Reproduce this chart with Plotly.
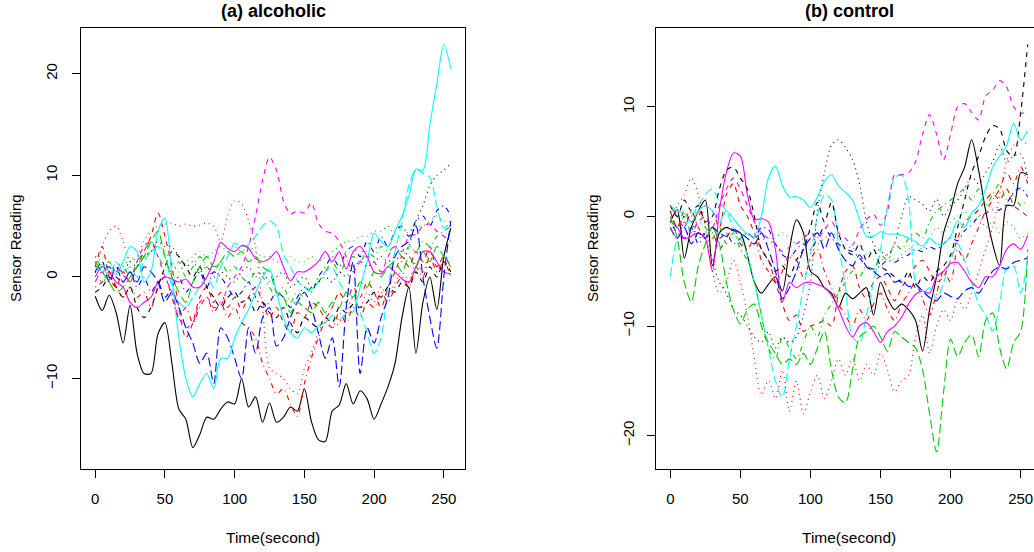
import plotly.graph_objects as go

W, H = 1034, 552

# sample times (seconds)
TIME = list(range(0, 256, 5))

# ---------------- (a) alcoholic ----------------
A_BLACK_SOLID = [-1.9, -3.3, -1.8, -3.5, -6.5, -2.8, -7.5, -9.5, -9.5, -5.6,
                 -4.5, -8.5, -13.0, -14.0, -16.8, -15.5, -13.8, -14.0, -13.0, -12.3,
                 -12.5, -10.0, -12.8, -11.8, -14.3, -12.4, -14.3, -13.8, -12.8, -13.2,
                 -11.0, -14.2, -16.0, -16.2, -13.2, -12.6, -10.5, -12.5, -11.2, -12.0,
                 -14.0, -12.5, -10.8, -8.5, -4.0, -1.0, -7.5, -2.5, 0.0, -3.2,
                 2.0, 4.8]
A_RED_DASHED = [1.0, 3.0, 0.0, -1.0, 0.5, -0.5, 1.0, 2.5, 4.0, 6.3,
                4.0, 1.0, -3.0, -6.0, -4.5, -2.0, -1.0, -2.5, -1.5, -3.0,
                -2.0, -3.2, -2.0, -1.0, -2.5, -4.0, -3.0, -4.5, -5.5, -3.5,
                -4.0, -2.5, -3.0, -4.0, -3.0, -1.5, -2.5, -1.0, -2.0, -0.5,
                -1.5, -3.0, -1.0, 0.5, 2.0, 1.0, 2.5, 1.5, 3.0, 1.0,
                2.0, 1.0]
A_GREEN_DOTTED = [2.0, 1.5, 1.0, 1.5, 1.0, 2.0, 1.5, 2.0, 2.5, 3.0,
                  2.5, 1.5, 0.5, 1.5, 2.0, 2.5, 2.0, 2.5, 3.0, 2.5,
                  3.0, 2.5, 3.0, 2.5, 2.0, 2.0, 1.5, 1.5, 2.0, 1.5,
                  1.5, 2.0, 1.5, 2.0, 2.5, 3.0, 3.5, 3.5, 4.0, 4.0,
                  4.5, 4.5, 5.0, 4.0, 4.0, 4.5, 5.0, 5.0, 5.5, 6.0,
                  5.5, 5.5]
A_BLUE_DOTDASH = [1.5, 0.5, 1.0, 0.0, -0.5, 0.5, -1.0, 0.0, -1.5, -0.5,
                  -2.0, -1.0, 0.0, -1.5, -0.5, 0.5, -1.0, 0.5, 0.0, -1.0,
                  -2.0, -1.5, -0.5, -2.0, -3.0, -2.5, -1.5, -2.0, -3.0, -2.0,
                  -1.0, -1.5, 0.0, 1.0, 2.0, 1.0, 2.5, 3.0, 2.0, 3.5,
                  2.5, 4.0, 3.0, 4.5, 5.0, 4.0, 5.5, 6.0, 5.0, 6.5,
                  7.0, 6.0]
A_CYAN_LONGDASH = [0.5, 1.0, 0.0, 1.5, 0.5, 1.0, 0.0, 1.5, 2.5, 3.0,
                   2.0, -1.0, -2.5, -3.0, -2.0, -1.0, 0.0, -1.0, 1.0, 2.0,
                   3.3, 3.0, 3.2, 4.0, 5.0, 5.5, 5.0, 2.2, 1.0, -0.4,
                   -1.0, -1.2, -0.5, 0.5, 0.9, -0.5, -1.5, -2.0, -3.5, -5.5,
                   -7.5, -6.0, -1.0, 2.5, 5.5, 9.0, 10.6, 10.2, 9.8, 7.0,
                   4.8, 5.5]
A_MAGENTA_SOLID = [0.0, 1.0, 0.5, -0.5, -1.0, -2.5, -3.0, -2.5, -2.0, -0.5,
                   0.0, -0.2, -0.5, -0.2, -1.0, -1.0, 0.0, 1.5, 3.4, 2.8,
                   2.5, 3.1, 2.8, 1.8, 1.5, 1.8, 2.5, 1.0, -0.4, 0.5,
                   0.5, 0.9, 1.5, 2.5, 1.5, 2.5, 0.8, 2.5, 3.0, 2.0,
                   0.5, 0.3, 1.0, 0.5, -0.2, -0.5, 1.0, 2.5, 2.5, 1.5,
                   0.5, 0.3]
A_BLACK_DASHED = [-1.5, -1.0, 0.0, -1.0, -2.0, -1.0, -3.0, -4.0, -3.0, -1.0,
                  1.0, 2.5, 2.0, 1.0, 0.0, 1.0, -1.0, -2.0, -3.0, -2.0,
                  -1.5, -2.5, -2.0, -3.5, -2.5, -3.5, -4.0, -3.0, -4.5, -5.5,
                  -4.0, -4.5, -5.0, -4.0, -4.5, -3.0, -3.5, -2.7, -3.0, -2.5,
                  -1.5, -2.0, -1.0, -1.5, -0.5, -1.0, 0.5, -0.5, 1.0, 0.0,
                  1.5, 0.5]
A_RED_DOTTED = [0.5, 3.0, 4.5, 5.0, 3.5, 1.5, 2.0, 3.5, 4.5, 5.0,
                5.2, 5.3, 5.0, 5.2, 5.0, 5.1, 5.3, 5.0, 3.5, 6.0,
                7.5, 7.2, 5.5, 3.0, -3.0, -9.0, -9.5, -10.0, -11.0, -11.5,
                -9.0, -7.5, -5.5, -4.3, -5.0, -4.5, -3.5, -2.0, -3.0, -1.5,
                -2.5, -1.0, -2.0, -0.5, 0.5, -0.5, 1.5, 0.5, 2.5, 1.0,
                2.0, 1.5]
A_GREEN_DOTDASH = [2.0, 1.0, 1.5, 0.5, 1.0, 0.0, 1.5, 2.5, 3.5, 2.0,
                   1.0, 0.5, 1.5, 0.0, 1.0, 2.0, 1.0, 0.5, 1.5, 0.5,
                   1.0, 0.0, -0.5, 0.5, 0.0, -1.0, -2.0, -1.0, -2.5, -1.5,
                   -2.0, -1.0, -0.5, 0.5, 1.5, 0.5, 1.5, 2.0, 1.5, 2.5,
                   2.0, 3.0, 2.5, 3.0, 2.0, 3.0, 2.5, 3.5, 3.0, 4.0,
                   4.5, 5.0]
A_BLUE_LONGDASH = [0.5, 1.5, -0.5, 1.0, -0.5, 0.5, -0.5, 1.0, 0.5, -0.5,
                   -2.5, -1.5, -3.0, -5.0, -6.5, -8.5, -7.5, -10.5, -5.0, -6.0,
                   -8.0, -10.0, -5.0, -7.5, -4.0, -3.0, -6.8, -6.0, -4.0, -2.5,
                   -1.5, -3.0, -5.5, -8.0, -6.0, -10.8, -3.0, 1.5, -9.5, -5.0,
                   -6.5, -4.0, -2.0, 2.0, 3.0, 3.5, 5.0, 0.0, -4.0, -7.0,
                   0.0, 5.5]
A_CYAN_SOLID = [0.8, 1.2, 0.5, 0.3, 1.5, 3.0, 2.5, -0.5, 0.5, 4.5,
                5.8, 0.0, -6.0, -10.0, -11.8, -10.5, -9.5, -11.0, -8.0, -8.0,
                -6.0, -4.5, -3.2, -1.6, 0.0, 0.8, -1.5, -4.0, -5.5, -6.0,
                -5.0, -5.5, -4.8, -4.5, -3.8, -4.2, -3.6, -3.4, -1.0, 1.5,
                4.3, 3.5, 3.0, 4.5, 6.0, 8.0, 10.6, 10.5, 15.0, 19.0,
                22.9, 20.5]
A_MAGENTA_DASHED = [-0.5, 0.5, -0.3, 1.0, 0.2, -0.5, 1.5, 3.0, 3.5, 2.0,
                    0.0, -1.5, -4.0, -5.0, -4.5, -2.5, -2.0, -3.0, -2.8, -1.0,
                    0.0, 1.0, 3.0, 6.0, 9.5, 11.8, 10.5, 7.5, 6.2, 6.5,
                    6.3, 7.3, 5.3, 4.5, 4.3, 3.5, 2.0, 0.5, 1.5, 2.0,
                    1.5, 0.5, 2.0, 3.0, 2.5, 4.0, 4.2, 5.0, 5.2, 4.5,
                    4.0, 3.5]
A_BLACK_DOTTED = [0.5, -0.5, 0.5, 1.0, 0.5, 1.5, 1.0, 2.0, 2.5, 3.5,
                  3.0, 3.0, 2.0, 1.0, 1.5, 0.5, 1.0, 0.0, 0.5, 0.0,
                  -0.5, 0.5, 1.0, 0.0, 0.5, -0.5, 0.0, 0.5, -1.0, -0.5,
                  0.0, -1.0, -0.5, 0.0, -0.5, 0.5, 0.0, 1.0, 1.5, 1.0,
                  1.5, 2.0, 1.5, 2.0, 1.5, 3.0, 5.5, 7.0, 9.0, 10.0,
                  10.5, 11.2]
A_RED_DOTDASH = [-1.0, -0.5, 0.5, -1.0, -2.0, -1.0, -2.0, -1.5, -3.0, -1.0,
                 0.0, -2.0, -4.0, -3.0, -4.5, -3.0, -2.0, -3.5, -2.5, -4.0,
                 -3.0, -4.5, -5.0, -6.0, -8.5, -10.0, -11.5, -11.0, -12.5, -13.7,
                 -10.5, -8.0, -6.0, -4.5, -5.0, -3.5, -4.5, -3.0, -4.0, -2.5,
                 -3.0, -1.5, -2.5, -1.0, 0.0, -1.0, 1.0, 0.0, 2.0, 0.5,
                 1.5, 0.0]
A_GREEN_LONGDASH = [1.5, 0.5, -0.5, -1.5, -1.0, 0.0, 1.0, 2.0, 3.5, 4.5,
                    2.0, 0.0, -1.5, -2.5, -0.5, 1.0, 2.0, 1.0, 1.5, 2.5,
                    2.0, 2.5, 1.5, 2.0, 1.0, 0.5, -1.5, -2.0, -3.5, -2.5,
                    -3.0, -3.5, -2.5, -3.5, -2.5, -3.0, -1.5, -2.0, -0.5, -1.0,
                    0.5, 0.0, 1.0, 1.5, 0.5, 2.0, 1.0, 2.5, 1.5, 3.0,
                    2.0, 1.0]

# ---------------- (b) control ----------------
B_BLACK_SOLID = [-0.5, 0.6, -3.8, -1.0, 0.5, 1.5, -4.5, -1.5, -1.0, -1.3,
                 -1.5, -3.5, -6.0, -7.0, -6.2, -5.5, -6.8, -3.0, -0.3, -1.5,
                 -5.0, -5.5, -6.5, -7.0, -8.3, -7.0, -7.5, -7.0, -6.5, -9.0,
                 -6.0, -7.5, -8.5, -8.0, -8.5, -9.5, -12.3, -8.5, -5.5, -1.5,
                 0.5, 3.0, 4.5, 7.0, 4.2, 0.5, -2.5, -4.5, 1.0, 1.0,
                 4.0, 3.8]
B_RED_DASHED = [0.5, -1.0, 0.5, -0.5, 0.0, 1.0, 0.5, -1.0, 2.0, 3.0,
                1.0, 0.0, -1.5, -3.0, -4.0, -6.0, -8.0, -9.5, -9.0, -10.5,
                -10.0, -9.8, -9.5, -10.0, -7.0, -5.0, -4.5, -6.5, -7.5, -6.0,
                -5.5, -6.5, -7.7, -6.5, -5.5, -4.5, -4.0, -5.0, -6.0, -5.5,
                -4.0, -2.0, -0.5, 0.0, 0.6, 1.5, 2.1, 1.5, 2.5, 1.0,
                0.5, 0.0]
B_GREEN_DOTTED = [1.0, 0.5, 0.5, 0.0, 0.5, -0.5, -1.0, -1.5, -1.0, -2.0,
                  -1.5, -2.0, -2.5, -2.0, -2.5, -2.0, -1.5, -2.0, -2.5, -2.0,
                  -1.5, -2.5, -2.0, -1.5, -2.0, -2.5, -3.0, -2.5, -3.5, -3.0,
                  -4.0, -3.5, -4.0, -3.5, -3.0, -2.5, -3.0, -2.0, -1.0, -1.5,
                  -0.5, 0.0, 0.5, -0.5, 0.0, -1.0, -0.5, -1.5, -0.5, -1.0,
                  -2.0, -1.5]
B_BLUE_DOTDASH = [-0.5, -1.5, -2.0, -1.0, -2.5, -1.5, -1.0, -2.0, -1.5, -2.5,
                  -2.0, -1.5, -2.0, -1.0, -1.2, -2.5, -3.5, -3.8, -3.0, -2.5,
                  -3.0, -2.0, -1.0, -2.0, -2.5, -3.0, -3.2, -3.8, -4.5, -4.8,
                  -4.5, -4.0, -4.2, -3.8, -3.5, -3.0, -3.2, -2.8, -3.0, -2.5,
                  -2.0, -2.2, -1.3, -0.8, 0.0, 0.3, 0.6, 0.6, 1.2, 2.2,
                  2.6, 1.8]
B_CYAN_LONGDASH = [-5.5, -2.0, -1.0, 0.0, 1.0, 2.0, 2.5, 1.3, 0.5, -1.0,
                   -2.0, -3.5, -6.0, -9.0, -12.0, -15.0, -16.5, -13.0, -10.0, -6.5,
                   -3.5, 0.0, 2.0, 1.5, -2.5, -6.5, -11.0, -11.5, -9.0, -6.0,
                   -3.0, 1.0, 3.5, 3.8, 1.5, -6.0, -7.0, -6.5, -7.5, -6.0,
                   -4.0, -2.5, -4.0, -6.0, -8.0, -9.0, -10.5, -8.0, -4.7, -4.5,
                   -7.0, -4.0]
B_MAGENTA_SOLID = [-0.4, -1.0, -2.0, -1.8, -1.5, -2.0, -5.0, 0.5, 4.0, 5.8,
                   5.5, 2.0, -0.3, -0.2, -0.5, -3.0, -7.8, -6.0, -6.5, -6.1,
                   -6.0, -6.2, -6.5, -7.2, -8.4, -10.0, -11.0, -10.0, -9.7, -10.5,
                   -11.5, -10.5, -10.0, -9.2, -8.0, -7.1, -6.8, -7.0, -5.5, -5.0,
                   -4.3, -4.2, -5.0, -6.0, -6.5, -5.5, -5.5, -4.5, -3.0, -2.5,
                   -3.0, -1.7]
B_BLACK_DASHED = [1.0, 0.0, 1.5, 0.5, 1.0, -0.5, 0.0, 2.5, 4.2, 4.5,
                  3.5, 2.5, 0.0, -3.0, -4.0, -5.0, -4.5, -5.5, -4.0, -3.0,
                  -1.0, 1.3, -0.5, 1.3, -1.5, -3.0, -3.5, -2.5, -4.0, -3.0,
                  -4.5, -5.0, -5.5, -6.0, -5.0, -6.5, -5.5, -6.0, -5.0, -4.5,
                  -3.5, -1.0, 1.5, 4.0, 5.5, 7.3, 8.3, 8.0, 6.0, 5.5,
                  9.5, 15.7]
B_RED_DOTTED = [-0.5, 1.0, 2.0, 3.5, 2.0, -1.0, -5.0, -7.0, -6.0, -4.0,
                -6.0, -9.0, -13.0, -16.3, -15.0, -16.6, -14.0, -17.8, -15.0, -18.0,
                -16.0, -14.5, -16.6, -15.0, -13.0, -14.5, -13.0, -15.0, -13.5, -14.5,
                -12.5, -14.0, -16.0, -15.0, -14.5, -11.0, -9.0, -12.5, -10.0, -8.5,
                -9.5, -7.5, -8.5, -7.0, -5.0, -3.0, -1.0, 2.0, 5.0, 6.5,
                7.0, 6.5]
B_GREEN_DOTDASH = [-0.5, -1.0, 0.0, -1.5, -0.5, -1.0, -2.0, -1.0, -2.5, -1.5,
                   -3.0, -4.0, -6.0, -9.0, -12.0, -13.0, -11.0, -12.0, -13.0, -11.5,
                   -10.0, -11.0, -9.0, -8.0, -7.0, -6.0, -5.0, -5.5, -4.5, -5.0,
                   -3.5, -4.0, -2.5, -3.0, -2.0, -1.5, -2.0, -0.5, 0.5, 1.0,
                   1.5, 2.0, 2.5, 1.5, 2.5, 1.0, 2.0, 3.0, 1.5, 2.0,
                   1.0, 1.5]
B_BLUE_LONGDASH = [-1.0, -2.0, -1.0, -2.5, -1.5, -2.0, -1.0, -1.5, -1.8, -1.2,
                   -1.5, -2.0, -2.5, -1.5, -3.0, -5.0, -7.5, -6.5, -5.0, -3.0,
                   -2.0, -1.5, -3.0, -1.5, -3.0, -4.0, -4.5, -3.5, -4.6, -5.0,
                   -5.5, -5.2, -6.0, -5.8, -6.4, -6.2, -6.8, -7.4, -7.7, -7.0,
                   -7.3, -7.5, -6.8, -6.5, -7.0, -6.0, -5.0, -4.6, -4.8, -4.2,
                   -4.0, -3.8]
B_CYAN_SOLID = [1.0, 0.5, 0.3, -0.5, 0.5, 1.0, 0.5, -0.5, 0.5, -0.2,
                -1.0, -1.6, -1.8, 0.0, 3.5, 4.6, 2.8, 1.8, 1.8, 1.5,
                0.8, 1.8, 3.2, 3.8, 2.8, 2.2, 1.5, -0.3, -1.8, -1.8,
                -1.4, -1.6, -1.6, -1.7, -2.0, -2.3, -2.7, -2.0, -2.5, -2.5,
                -1.8, -0.4, -1.0, 0.3, 1.0, 2.5, 4.5, 5.5, 6.5, 8.5,
                7.0, 7.8]
B_MAGENTA_DASHED = [-1.0, -2.0, -0.5, -1.5, -0.5, 0.0, -1.0, 1.0, 2.5, 3.5,
                    2.5, 1.0, -0.5, -1.5, -2.0, -2.5, -3.2, -2.8, -2.5, -2.0,
                    -1.5, -2.0, -1.2, -0.5, -1.5, -2.0, -2.6, -1.2, -0.3, 0.2,
                    -0.8, 0.5, 3.8, 3.8, 4.0, 5.0, 7.5, 9.3, 7.5, 5.2,
                    7.5, 10.0, 10.3, 9.5, 8.8, 11.0, 11.5, 12.4, 11.8, 10.0,
                    9.4, 9.6]
B_BLACK_DOTTED = [0.5, -1.0, 0.0, -0.5, -2.0, -1.5, -4.0, -6.0, -7.0, -8.5,
                  -9.0, -10.0, -11.0, -11.5, -10.5, -12.0, -11.0, -11.5, -11.0, -9.0,
                  -6.0, 0.5, 4.0, 6.5, 7.0, 6.3, 5.2, 3.0, -0.5, -2.5,
                  -3.2, -3.5, -2.5, 0.0, 1.8, 1.5, 1.1, 0.5, 1.6, 0.0,
                  1.0, 1.5, 2.5, 3.6, 3.0, 4.0, 5.0, 6.5, 5.0, 5.5,
                  5.7, 3.5]
B_RED_DOTDASH = [1.0, 0.0, -1.0, 0.5, -1.0, -2.0, -1.5, -3.0, -2.0, -1.0,
                 -2.5, -3.0, -2.0, -4.0, -5.0, -6.0, -5.0, -3.5, -4.0, -5.5,
                 -4.0, -3.0, -5.0, -6.5, -8.0, -9.0, -10.0, -8.5, -9.5, -8.0,
                 -7.0, -8.5, -9.5, -8.0, -7.0, -6.0, -7.5, -9.0, -7.0, -5.0,
                 -6.0, -3.0, -4.0, -2.5, -1.0, 0.5, 1.5, 2.5, 4.0, 3.0,
                 4.5, 3.0]
B_GREEN_LONGDASH = [0.0, -2.0, -6.0, -7.8, -4.5, -2.5, -1.0, -2.5, -6.0, -8.5,
                    -9.8, -8.5, -8.0, -10.0, -11.5, -12.5, -13.5, -13.0, -13.5, -12.5,
                    -13.5, -12.0, -10.5, -14.0, -16.5, -17.0, -14.0, -11.0, -10.5, -10.0,
                    -11.0, -12.3, -10.5, -11.0, -11.5, -12.0, -14.0, -18.0, -21.5, -16.0,
                    -11.2, -12.8, -11.5, -10.8, -12.8, -9.5, -8.8, -12.0, -13.9, -11.5,
                    -10.5, -3.0]

ALCOHOLIC = [A_BLACK_SOLID, A_RED_DASHED, A_GREEN_DOTTED, A_BLUE_DOTDASH, A_CYAN_LONGDASH,
             A_MAGENTA_SOLID, A_BLACK_DASHED, A_RED_DOTTED, A_GREEN_DOTDASH, A_BLUE_LONGDASH,
             A_CYAN_SOLID, A_MAGENTA_DASHED, A_BLACK_DOTTED, A_RED_DOTDASH, A_GREEN_LONGDASH]
CONTROL = [B_BLACK_SOLID, B_RED_DASHED, B_GREEN_DOTTED, B_BLUE_DOTDASH, B_CYAN_LONGDASH,
           B_MAGENTA_SOLID, B_BLACK_DASHED, B_RED_DOTTED, B_GREEN_DOTDASH, B_BLUE_LONGDASH,
           B_CYAN_SOLID, B_MAGENTA_DASHED, B_BLACK_DOTTED, B_RED_DOTDASH, B_GREEN_LONGDASH]

# R matplot style cycles
COLORS = ["#000000", "#FF0000", "#00CD00", "#0000FF", "#00FFFF", "#FF00FF"]
DASHES = ["solid", "5px,5px", "1px,4px", "1px,4px,5px,4px", "9px,4px"]

X_TICKS = [0, 50, 100, 150, 200, 250]
A_Y_TICKS = [-10, 0, 10, 20]
B_Y_TICKS = [-20, -10, 0, 10]

FONT = "Liberation Sans, Arial, Helvetica, sans-serif"

fig = go.Figure()
for panel, (xa, ya) in ((ALCOHOLIC, ("x", "y")), (CONTROL, ("x2", "y2"))):
    for i, vals in enumerate(panel):
        fig.add_trace(go.Scatter(
            x=TIME, y=vals, mode="lines", xaxis=xa, yaxis=ya,
            line=dict(color=COLORS[i % 6], dash=DASHES[i % 5], width=1.1, shape="spline", smoothing=0.8),
            hoverinfo="skip", showlegend=False))

y_dom = [1 - 469 / H, 1 - 28 / H]
axis_common = dict(showgrid=False, zeroline=False, showline=True, linecolor="black", linewidth=1,
                   ticks="outside", ticklen=8, tickwidth=1, tickcolor="black",
                   tickfont=dict(family=FONT, size=15, color="black"))

fig.update_layout(
    width=W, height=H, margin=dict(l=0, r=0, t=0, b=0),
    paper_bgcolor="white", plot_bgcolor="white", showlegend=False,
    xaxis=dict(domain=[81 / W, 465 / W], range=[-10.2, 265.2], tickvals=X_TICKS,
               anchor="y", mirror=True, ticklabelstandoff=8, **axis_common),
    yaxis=dict(domain=y_dom, range=[-18.9, 24.5], tickvals=A_Y_TICKS, tickangle=-90,
               anchor="x", mirror=True, ticklabelstandoff=9, **axis_common),
    xaxis2=dict(domain=[656 / W, 1.0], range=[-10.2, 259.5], tickvals=X_TICKS,
                anchor="y2", mirror=True, ticklabelstandoff=8, **axis_common),
    yaxis2=dict(domain=y_dom, range=[-23.05, 17.2], tickvals=B_Y_TICKS, tickangle=-90,
                anchor="x2", mirror=False, ticklabelstandoff=7, **axis_common),
)

def ann(text, x, y, size=15, bold=False, angle=0):
    fig.add_annotation(text=f"<b>{text}</b>" if bold else text, x=x / W, y=1 - y / H,
                       xref="paper", yref="paper", showarrow=False, textangle=angle,
                       xanchor="center", yanchor="middle",
                       font=dict(family=FONT, size=size, color="black"))

ann("(a) alcoholic", 273, 11, size=18, bold=True)
ann("(b) control", 849, 11, size=18, bold=True)
ann("Time(second)", 273, 537, size=15.5)
ann("Time(second)", 849, 537, size=15.5)
ann("Sensor Reading", 15, 248, angle=-90)
ann("Sensor Reading", 592, 248, angle=-90)

fig.write_html("out.html")
